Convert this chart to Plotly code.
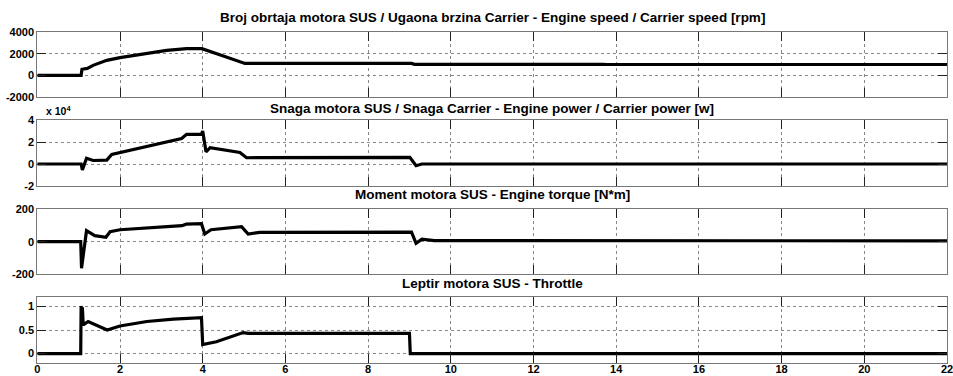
import plotly.graph_objects as go

# Engine speed [rpm]
speed_t = [0, 1.06, 1.08, 1.21, 1.35, 1.5, 1.68, 2.0, 2.5, 3.13, 3.61, 3.98, 4.5, 5.02, 9.05, 9.12, 13.7, 13.75, 22]
speed_v = [0, 0, 560, 640, 920, 1150, 1385, 1630, 1950, 2310, 2460, 2460, 1780, 1100, 1100, 1020, 1020, 1000, 1000]

# Engine power [W]
power_t = [0, 1.06, 1.09, 1.19, 1.35, 1.45, 1.68, 1.80, 3.49, 3.61, 3.97, 4.00, 4.08, 4.18, 4.90, 5.06, 9.01, 9.08, 9.16, 9.30, 22]
power_w = [0, 0, -5400, 5300, 3200, 3500, 3500, 8600, 23200, 27000, 27000, 30000, 11100, 14900, 10500, 5700, 6000, 2500, -1600, 0, 0]

# Engine torque [N*m]
torque_t = [0, 1.05, 1.07, 1.19, 1.39, 1.66, 1.76, 2.0, 3.50, 3.60, 3.97, 4.05, 4.20, 4.94, 5.10, 5.38, 9.05, 9.16, 9.30, 9.60, 22]
torque_v = [0, 0, -163, 67, 37, 27, 61, 73, 98, 107, 110, 47, 73, 92, 47, 57, 58, -10, 15, 6, 5]

# Throttle [-]
throttle_t = [0, 1.05, 1.06, 1.08, 1.09, 1.11, 1.13, 1.23, 1.69, 2.0, 2.65, 3.29, 3.97, 4.00, 4.33, 4.65, 4.98, 5.10, 9.00, 9.02, 22]
throttle_v = [0, 0, 1.01, 0.70, 0.98, 0.62, 0.62, 0.68, 0.50, 0.585, 0.68, 0.73, 0.76, 0.19, 0.25, 0.34, 0.445, 0.43, 0.43, 0, 0]

titles = [
    "Broj obrtaja motora SUS / Ugaona brzina Carrier - Engine speed / Carrier speed [rpm]",
    "Snaga motora SUS / Snaga Carrier - Engine power / Carrier power [w]",
    "Moment motora SUS - Engine torque [N*m]",
    "Leptir motora SUS - Throttle",
]
y_ranges = [[-2000, 4000], [-20000, 40000], [-200, 200], [-0.2, 1.2]]
y_ticks = [[-2000, 0, 2000, 4000], [-20000, 0, 20000, 40000], [-200, 0, 200], [0, 0.5, 1]]
y_ticktext = [["-2000", "0", "2000", "4000"], ["-2", "0", "2", "4"], ["-200", "0", "200"], ["0", "0.5", "1"]]
x_ticks = list(range(0, 23, 2))

W, H = 953, 376
px_left, px_right = 37.3, 947
panel_px = [(32, 97), (120, 186), (209, 274.3), (297, 363)]
title_px = [17, 108, 195, 283]

series = [(speed_t, speed_v), (power_t, power_w), (torque_t, torque_v), (throttle_t, throttle_v)]

fig = go.Figure()
font_family = "Liberation Sans, Arial, sans-serif"
tick_font = dict(family=font_family, size=11, color="#000000", weight="bold")

layout = dict(
    width=W, height=H,
    margin=dict(l=0, r=0, t=0, b=0),
    paper_bgcolor="white", plot_bgcolor="white",
    showlegend=False,
)

annotations = []
for i, ((t, v), (top, bot)) in enumerate(zip(series, panel_px)):
    n = i + 1
    xa = "x" if n == 1 else f"x{n}"
    ya = "y" if n == 1 else f"y{n}"
    fig.add_trace(go.Scatter(x=t, y=v, mode="lines", xaxis=xa, yaxis=ya,
                             line=dict(color="black", width=3.2)))
    axis_common = dict(
        showline=True, linecolor="#777777", linewidth=1, mirror="allticks",
        ticks="inside", ticklen=9, tickcolor="#222222", tickwidth=1,
        showgrid=True, gridcolor="#888888", griddash="dot", gridwidth=1,
        zeroline=False, tickfont=tick_font, fixedrange=True,
        ticklabeloverflow="allow", automargin=False,
    )
    layout["xaxis" if n == 1 else f"xaxis{n}"] = dict(
        axis_common,
        domain=[px_left / W, px_right / W], anchor=ya, range=[0, 22],
        tickvals=x_ticks, showticklabels=(n == 4), ticklabelstandoff=-4,
    )
    layout["yaxis" if n == 1 else f"yaxis{n}"] = dict(
        axis_common,
        domain=[1 - bot / H, 1 - top / H], anchor=xa, range=y_ranges[i],
        tickvals=y_ticks[i], ticktext=y_ticktext[i],
    )
    annotations.append(dict(
        text=titles[i], x=(px_left + px_right) / 2 / W, y=1 - title_px[i] / H,
        xref="paper", yref="paper", xanchor="center", yanchor="middle",
        showarrow=False, font=dict(family=font_family, size=13.5, color="black", weight="bold"),
    ))

# exponent label for the power axis
annotations.append(dict(
    text="x 10<sup>4</sup>", x=44 / W, y=1 - 110 / H, xref="paper", yref="paper",
    xanchor="left", yanchor="middle", showarrow=False,
    font=dict(family=font_family, size=10.5, color="black", weight="bold"),
))
layout["annotations"] = annotations
fig.update_layout(**layout)
fig.write_html("out.html")
